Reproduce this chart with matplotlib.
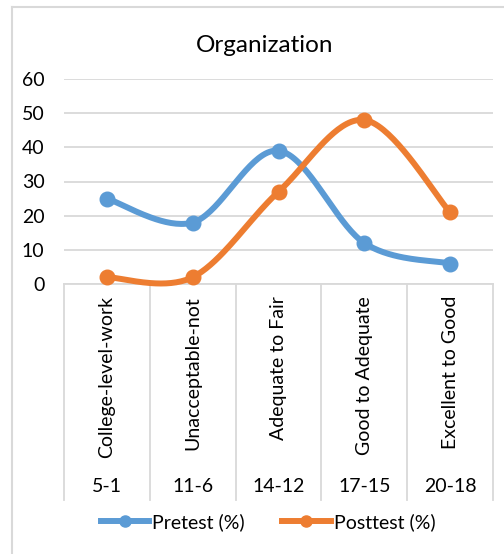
import numpy as np
import matplotlib.pyplot as plt

# chart data
levels = ["College-level-work", "Unacceptable-not", "Adequate to Fair",
          "Good to Adequate", "Excellent to Good"]
ranges = ["5-1", "11-6", "14-12", "17-15", "20-18"]
pretest = [25, 18, 39, 12, 6]
posttest = [2, 2, 27, 48, 21]

blue = "#5B9BD5"
orange = "#ED7D31"
grid = "#D9D9D9"
plt.rcParams['font.family'] = ['Lato', 'DejaVu Sans']


def smooth(xs, ys, n=40):
    # excel-like smoothed line (catmull-rom as cubic bezier)
    pts = np.column_stack([xs, ys]).astype(float)
    p = np.vstack([pts[0], pts, pts[-1]])
    out = []
    t = np.linspace(0, 1, n)[:, None]
    for i in range(1, len(p) - 2):
        p0, p1, p2, p3 = p[i - 1], p[i], p[i + 1], p[i + 2]
        c1 = p1 + (p2 - p0) / 6
        c2 = p2 - (p3 - p1) / 6
        seg = ((1 - t) ** 3) * p1 + 3 * ((1 - t) ** 2) * t * c1 + 3 * (1 - t) * t ** 2 * c2 + t ** 3 * p2
        out.append(seg)
    out = np.vstack(out)
    return out[:, 0], out[:, 1]


W, H = 504, 554
fig = plt.figure(figsize=(W / 100, H / 100), dpi=100)

# plot area in pixels
left, right, top, bottom = 64, 493, 79, 284
ax = fig.add_axes([left / W, 1 - bottom / H, (right - left) / W, (bottom - top) / H])

x = np.arange(len(levels))
for vals, col, lab in [(pretest, blue, "Pretest (%)"), (posttest, orange, "Posttest (%)")]:
    sx, sy = smooth(x, vals)
    ax.plot(sx, sy, color=col, lw=4.3, solid_capstyle='round', zorder=3, clip_on=False)
    ax.plot(x, vals, 'o', color=col, ms=10.5, zorder=4, clip_on=False)
    ax.plot([], [], color=col, lw=4.3, marker='o', ms=8, label=lab)

ax.set_xlim(-0.5, len(levels) - 0.5)
ax.set_ylim(0, 60)
ax.set_yticks(range(0, 61, 10))
ax.yaxis.grid(True, color=grid, lw=1.3)
ax.set_axisbelow(True)
for s in ["top", "right", "left"]:
    ax.spines[s].set_visible(False)
ax.spines["bottom"].set_color(grid)
ax.spines["bottom"].set_linewidth(1.3)
ax.tick_params(axis='y', length=0, labelsize=14, pad=14, colors="#000000")
ax.set_xticks([])

# two-level category axis
tr = ax.get_xaxis_transform()
ybot = (bottom - 500) / (bottom - top)
for b in np.arange(-0.5, len(levels), 1.0):
    ax.plot([b, b], [0, ybot], color=grid, lw=1.3, transform=tr, clip_on=False)
ylab = (bottom - 296) / (bottom - top)
yrng = (bottom - 487) / (bottom - top)
for i in range(len(levels)):
    ax.text(i, ylab, levels[i], rotation=90, ha='center', va='top', fontsize=14, transform=tr)
    ax.text(i, yrng, ranges[i], ha='center', va='center', fontsize=14, transform=tr)

fig.suptitle("Organization", x=265 / W, y=1 - 45 / H, va='center', fontsize=17.5)

fig.legend(loc='center', bbox_to_anchor=(268 / W, 1 - 522 / H), ncol=2, frameon=False,
           fontsize=14, handlelength=2.5, handletextpad=0.15, columnspacing=1.9)

# chart border
fig.add_artist(plt.Line2D([12 / W, 12 / W], [0, 1 - 7 / H], color=grid, lw=1.5))
fig.add_artist(plt.Line2D([12 / W, 1], [1 - 7 / H, 1 - 7 / H], color=grid, lw=1.5))

fig.savefig("out.png", dpi=100)
